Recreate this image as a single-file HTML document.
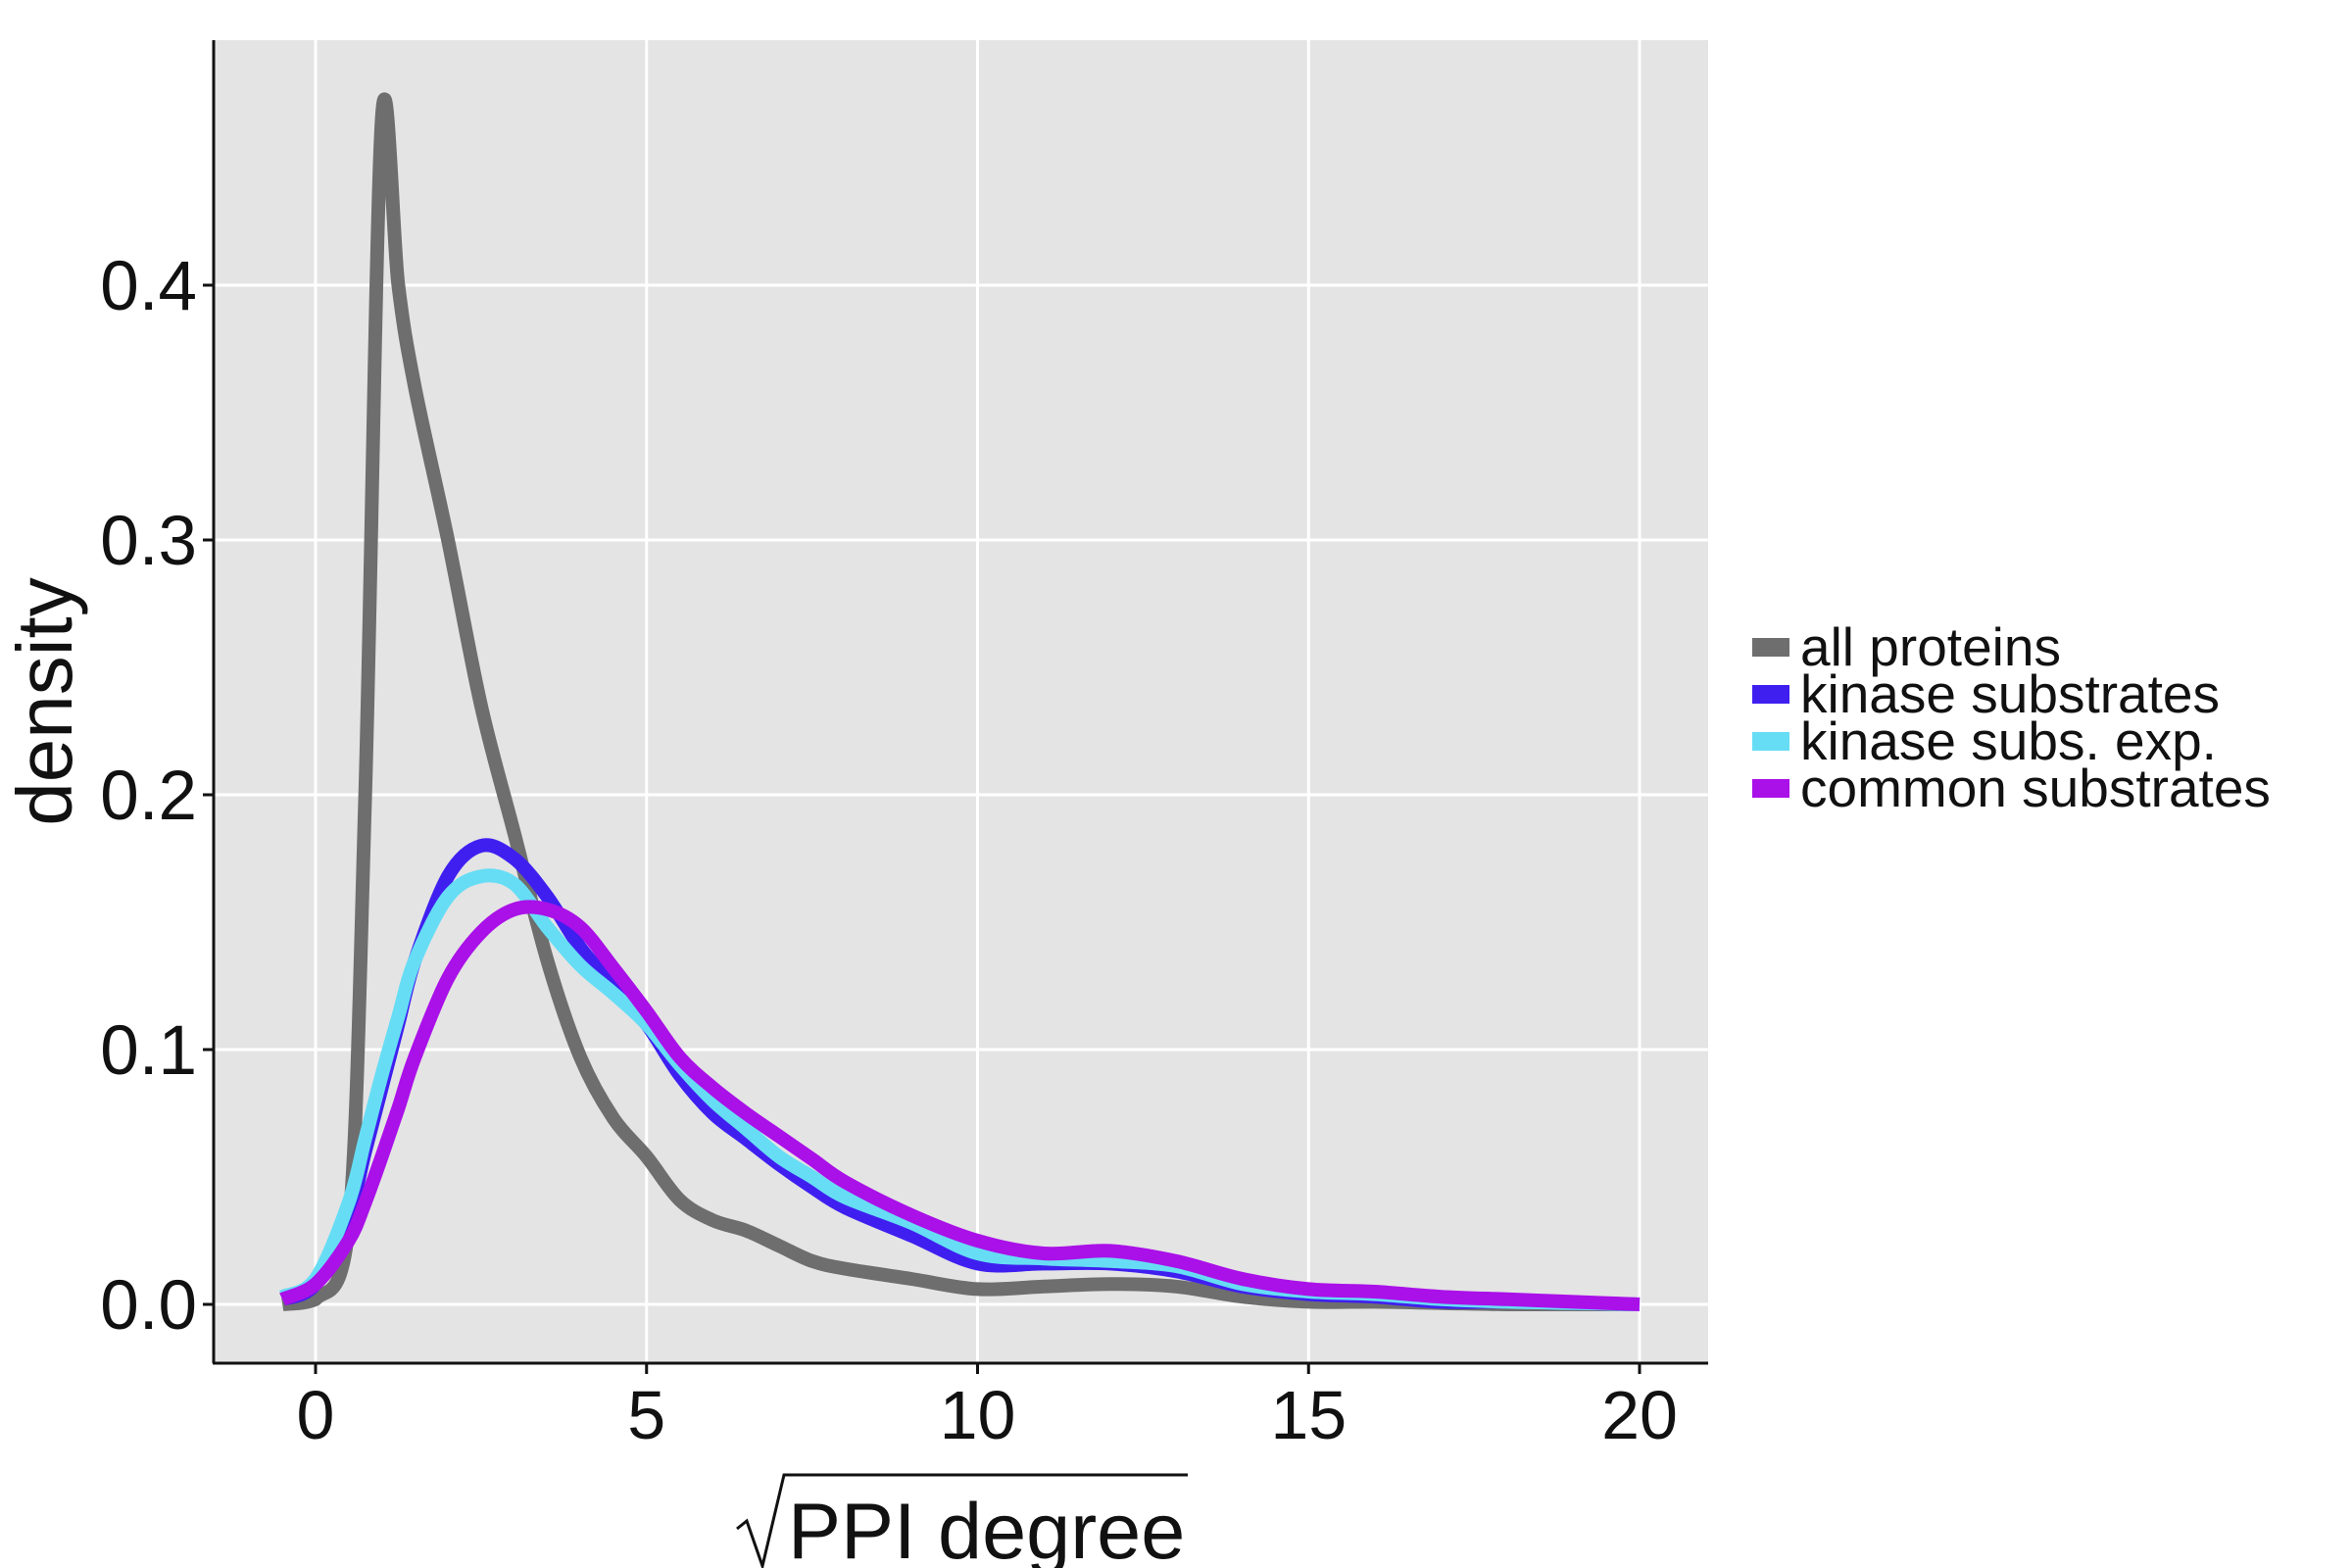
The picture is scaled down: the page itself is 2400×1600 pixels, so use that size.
<!DOCTYPE html>
<html><head><meta charset="utf-8"><style>
html,body{margin:0;padding:0;background:#fff;}
svg{display:block;font-family:"Liberation Sans",Arial,sans-serif;}
</style></head><body>
<svg id="chart" width="2400" height="1600" viewBox="0 0 2400 1600">
<rect x="218" y="41" width="1525" height="1349" fill="#e4e4e4"/>
<g id="grid"></g>
<g id="series"></g>
<line x1="218" y1="41" x2="218" y2="1391" stroke="#111" stroke-width="3"/>
<line x1="217" y1="1391" x2="1743" y2="1391" stroke="#111" stroke-width="3"/>
<g id="ticks"></g>
<text x="0" y="0" transform="translate(73,716) rotate(-90)" text-anchor="middle" font-size="80" fill="#111">density</text>
<g>
<path d="M752,1560 L762,1552 L778,1598 L800,1505 L1212,1505" fill="none" stroke="#111" stroke-width="3"/>
<text x="804" y="1590" font-size="81" fill="#111">PPI degree</text>
</g>
<g id="legend"></g>
</svg>
<script>
const xs = [-0.5,0,0.5,0.75,1,1.25,1.5,2,2.5,3,3.5,4,4.5,5,5.5,6,6.5,7,7.5,8,9,10,11,12,13,14,15,16,17,18,19,20];
const allProteins = [0,0.002,0.03,0.2,0.465,0.40,0.36,0.30,0.235,0.185,0.135,0.097,0.073,0.058,0.041,0.033,0.029,0.023,0.017,0.014,0.010,0.006,0.007,0.008,0.007,0.003,0.001,0.001,0.0005,0,0,0];
const kinaseSubs = [0.002,0.008,0.035,0.06,0.085,0.11,0.135,0.168,0.180,0.175,0.16,0.14,0.125,0.11,0.09,0.075,0.065,0.055,0.046,0.038,0.027,0.016,0.016,0.016,0.013,0.007,0.004,0.003,0.001,0.001,0.0005,0];
const kinaseExp = [0.003,0.01,0.04,0.065,0.09,0.113,0.135,0.160,0.168,0.165,0.148,0.133,0.122,0.11,0.094,0.08,0.069,0.058,0.05,0.042,0.032,0.02,0.018,0.017,0.015,0.008,0.005,0.004,0.002,0.001,0.0005,0];
const commonSubs = [0.002,0.008,0.025,0.04,0.058,0.077,0.097,0.128,0.146,0.155,0.155,0.148,0.132,0.115,0.097,0.085,0.075,0.066,0.057,0.048,0.035,0.025,0.02,0.021,0.017,0.010,0.006,0.005,0.003,0.002,0.001,0];
const xTicks = [0,5,10,15,20];
const yTicks = [0,0.1,0.2,0.3,0.4];
const yTickLabels = ["0.0","0.1","0.2","0.3","0.4"];
const seriesNames = ["all proteins","kinase substrates","kinase subs. exp.","common substrates"];
const seriesColors = ["#6e6e6e","#3f1ff0","#66ddf5","#aa10e8"];

const NS="http://www.w3.org/2000/svg";
function sx(v){return 322 + v*67.55;}
function sy(v){return 1331 - v*2600;}
function mk(tag,attrs,parent){const e=document.createElementNS(NS,tag);for(const k in attrs)e.setAttribute(k,attrs[k]);parent.appendChild(e);return e;}
const grid=document.getElementById('grid'), ticks=document.getElementById('ticks'), ser=document.getElementById('series'), leg=document.getElementById('legend');
xTicks.forEach(v=>{
  const g=mk('line',{x1:sx(v),x2:sx(v),y1:41,y2:1390,stroke:'#fff','stroke-width':3},grid);
  
  
  const t=mk('line',{x1:sx(v),x2:sx(v),y1:1391,y2:1402,stroke:'#111','stroke-width':3},ticks);
  
  
  const l=mk('text',{x:sx(v),y:1468,'text-anchor':'middle','font-size':70,fill:'#111'},ticks);
  l.textContent=String(v);
  
  
});
yTicks.forEach((v,i)=>{
  const g=mk('line',{x1:218,x2:1743,y1:sy(v),y2:sy(v),stroke:'#fff','stroke-width':3},grid);
  
  
  const t=mk('line',{x1:207,x2:218,y1:sy(v),y2:sy(v),stroke:'#111','stroke-width':3},ticks);
  
  
  const l=mk('text',{x:201,y:sy(v)+25,'text-anchor':'end','font-size':71,fill:'#111'},ticks);
  l.textContent=yTickLabels[i];
  
  
});
function pathFor(ys){
  const p=xs.map((x,i)=>[sx(x),sy(ys[i])]);
  let d='M'+p[0][0]+','+p[0][1];
  for(let i=0;i<p.length-1;i++){
    const p0=p[i-1]||p[i],p1=p[i],p2=p[i+1],p3=p[i+2]||p2;
    let c1y=p1[1]+(p2[1]-p0[1])/6, c2y=p2[1]-(p3[1]-p1[1])/6;
    c1y=Math.min(c1y,sy(0)); c2y=Math.min(c2y,sy(0));
    const c1=[p1[0]+(p2[0]-p0[0])/6,c1y];
    const c2=[p2[0]-(p3[0]-p1[0])/6,c2y];
    d+=' C'+c1[0]+','+c1[1]+' '+c2[0]+','+c2[1]+' '+p2[0]+','+p2[1];
  }
  return d;
}
const allSeries=[allProteins,kinaseSubs,kinaseExp,commonSubs];
const seriesKeys=["all-proteins","kinase-substrates","kinase-subs-exp","common-substrates"];
allSeries.forEach((ys,i)=>{
  const e=mk('path',{d:pathFor(ys),fill:'none',stroke:seriesColors[i],'stroke-width':14,'stroke-linejoin':'round','stroke-linecap':'butt'},ser);
  
  
  const k=mk('rect',{x:1788,y:651+i*48,width:38,height:19,fill:seriesColors[i]},leg);
  
  
  const t=mk('text',{x:1837,y:679+i*48,'font-size':55,fill:'#111'},leg);
  t.textContent=seriesNames[i];
  
  
});
</script>
</body></html>
